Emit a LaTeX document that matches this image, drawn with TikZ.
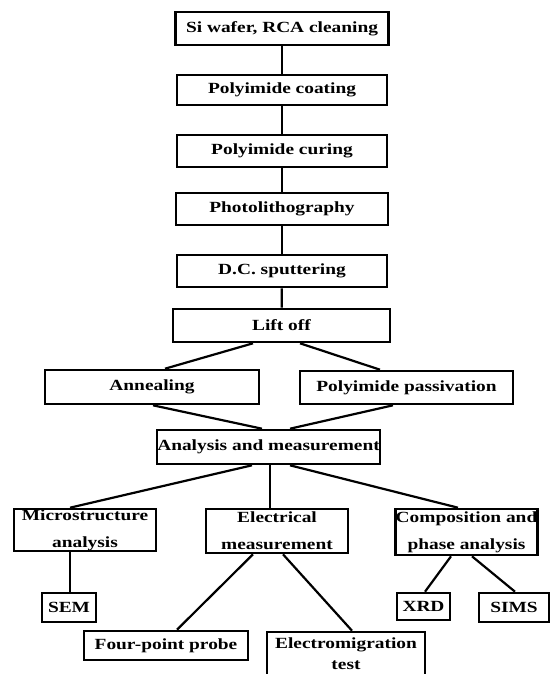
\documentclass[tikz,border=0pt]{standalone}
\usepackage{fontspec}
\setmainfont{Liberation Serif}[FakeStretch=1.25]
\tikzset{
    every node/.style={rectangle, draw, line width=2.6pt, inner sep=0pt, align=center,
        font=\fontsize{15.5}{27}\selectfont\bfseries}
}

\begin{document}
\begin{tikzpicture}[x=1pt, y=-1pt, line width=2.2pt]
    \useasboundingbox (0, 0) rectangle (549, 674);

    \node (si) [minimum width=213, minimum height=33] at (282, 28.5) {Si wafer, RCA cleaning};
    \node (coat) [minimum width=210, minimum height=30] at (282, 90) {Polyimide coating};
    \node (cure) [minimum width=210, minimum height=32] at (282, 151) {Polyimide curing};
    \node (photo) [minimum width=212, minimum height=32] at (282, 209) {Photolithography};
    \node (dc) [minimum width=210, minimum height=32] at (282, 271) {D.C. sputtering};
    \node (lift) [minimum width=217, minimum height=33] at (281.5, 325.5) {Lift off};

    \node (anneal) [minimum width=214, minimum height=34] at (152, 387) {Annealing};
    \node (passiv) [minimum width=213, minimum height=33] at (406.5, 387.5) {Polyimide passivation};
    \node (anal) [minimum width=223, minimum height=34] at (268.5, 447) {Analysis and measurement};

    \node (micro) [minimum width=142, minimum height=42] at (85, 530) {Microstructure\\analysis};
    \node (elec) [minimum width=142, minimum height=44] at (277, 531) {Electrical\\measurement};
    \node (comp) [minimum width=141, minimum height=46] at (466.5, 532) {Composition and\\phase analysis};

    \node (sem) [minimum width=54, minimum height=29] at (69, 607.5) {SEM};
    \node (xrd) [minimum width=53, minimum height=27] at (423.5, 606.5) {XRD};
    \node (sims) [minimum width=70, minimum height=29] at (514, 607.5) {SIMS};
    \node (four) [minimum width=164, minimum height=29] at (166, 645.5) {Four-point probe};
    \node (emig) [minimum width=158, minimum height=44] at (346, 654) {Electromigration\\[-6pt]test};

    \draw (si) edge (coat);
    \draw (coat) edge (cure);
    \draw (cure) edge (photo);
    \draw (photo) edge (dc);
    \draw (dc) edge (lift);

    \draw ([xshift=-28.5]lift.south) edge ([xshift=13]anneal.north);
    \draw ([xshift=18.5]lift.south) edge ([xshift=-26.5]passiv.north);
    \draw ([xshift=1]anneal.south) edge ([xshift=-6.5]anal.north);
    \draw ([xshift=-13.5]passiv.south) edge ([xshift=21.5]anal.north);

    \draw ([xshift=-16.5]anal.south) edge ([xshift=-15]micro.north);
    \draw ([xshift=1.5]anal.south) edge ([xshift=-7]elec.north);
    \draw ([xshift=21.5]anal.south) edge ([xshift=-8.5]comp.north);

    \draw ([xshift=-15]micro.south) edge ([xshift=1]sem.north);
    \draw ([xshift=-24]elec.south) edge ([xshift=11]four.north);
    \draw ([xshift=6]elec.south) edge ([xshift=6]emig.north);
    \draw ([xshift=-15.5]comp.south) edge ([xshift=1.5]xrd.north);
    \draw ([xshift=5.5]comp.south) edge ([xshift=1]sims.north);
\end{tikzpicture}
\end{document}
